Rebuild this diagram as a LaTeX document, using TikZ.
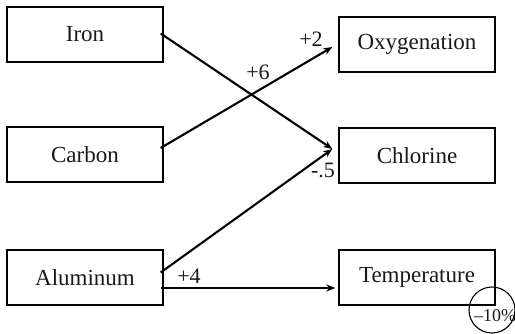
\documentclass[tikz,border=0pt]{standalone}
\usepackage{fontspec}
\setmainfont{Liberation Serif}
\usetikzlibrary{arrows.meta,calc}
\begin{document}
\begin{tikzpicture}[x=1pt,y=-1pt,
  box/.style={draw=black, line width=1.3pt, minimum width=156pt, minimum height=55pt, inner sep=0pt, font=\fontsize{23}{26}\selectfont, text=black!90},
  conn/.style={line width=2.1pt, draw=black, -{Stealth[length=9pt,width=7pt]}},
  lbl/.style={inner sep=0pt, font=\fontsize{22}{24}\selectfont, text=black!90}]
\useasboundingbox (0,0) rectangle (515,334);
\node[box] (iron) at (85,34.5) {Iron};
\node[box] (carbon) at (85,154.5) {Carbon};
\node[box] (alu) at (85,277.5) {Aluminum};
\node[box] (oxy) at (417,44.5) {Oxygenation};
\node[box] (chl) at (417,155.5) {Chlorine};
\node[box] (temp) at (417,277.5) {Temperature};
\coordinate (chlIn) at ($(chl.west)+(-6,-6.5)$);
\coordinate (oxyIn) at ($(oxy.west)+(-6,2.5)$);
\coordinate (tempIn) at ($(temp.west)+(-3,10.5)$);
\draw[conn] ($(iron.east)+(-3,-1)$) -- (chlIn);
\draw[conn] ($(carbon.east)+(-3,-6.5)$) -- (oxyIn);
\draw[conn] ($(alu.east)+(-3,-5)$) -- (chlIn);
\draw[conn] ($(alu.east)+(-3,10.5)$) -- (tempIn);
\node[lbl] (l2) at (311,39) {+2};
\node[lbl] (l6) at (258,72) {+6};
\node[lbl] (l5) at (323,170) {-.5};
\node[lbl] (l4) at (189,276) {+4};
\node[draw=black, line width=1.1pt, circle, minimum size=46pt, inner sep=0pt] (circ) at (492,310) {};
\node[inner sep=0pt, font=\fontsize{18}{20}\selectfont, text=black!90] (pct) at (495,316) {–10\%};
\end{tikzpicture}
\end{document}
